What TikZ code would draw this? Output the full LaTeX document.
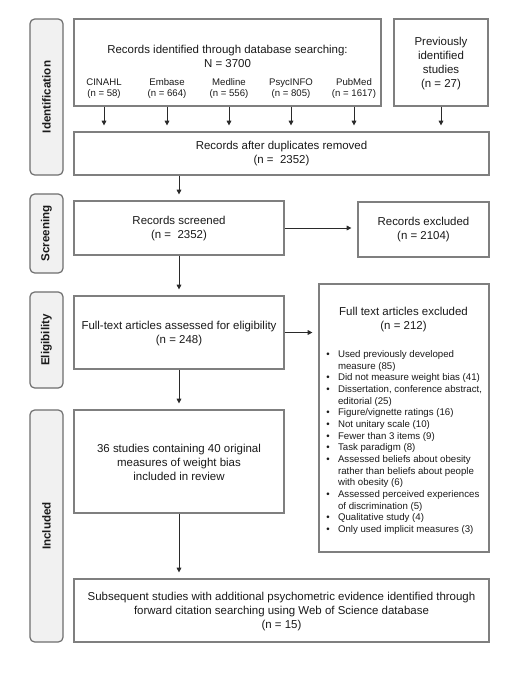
\documentclass[tikz,border=0pt]{standalone}
\usepackage{fontspec}
\setmainfont{Liberation Sans}
\usetikzlibrary{arrows.meta}
\definecolor{boxline}{HTML}{7F7F7F}
\definecolor{sideline}{HTML}{6E6E6E}
\definecolor{sidefill}{HTML}{F1F1F1}
\definecolor{arrowc}{HTML}{2A2A2A}
\definecolor{txtc}{HTML}{1A1A1A}
\begin{document}
\begin{tikzpicture}[x=0.75pt,y=-0.75pt,
  box/.style={draw=boxline, line width=0.9pt, inner sep=0pt},
  side/.style={draw=sideline, fill=sidefill, rounded corners=3.5pt, line width=0.9pt, inner sep=0pt, minimum width=24.75pt},
  sidelabel/.style={rotate=90, text=txtc, font=\bfseries\fontsize{8.7}{10}\selectfont, inner sep=0pt},
  txt/.style={align=center, text=txtc, font=\fontsize{8.6}{10.5}\selectfont, inner sep=0pt},
  small/.style={align=center, text=txtc, font=\fontsize{7.2}{8.7}\selectfont, inner sep=0pt},
  arr/.style={-{Triangle[length=3.5pt,width=3.5pt]}, line width=0.6pt, draw=arrowc, shorten >=4.5pt}]
\useasboundingbox (0,0) rectangle (520,693);
\fill[white] (0,0) rectangle (520,693);

% side boxes
\node[side, minimum height=117pt] (idside) at (46.5,97) {};
\node[sidelabel] at (idside.center) {Identification};
\node[side, minimum height=59.25pt] (scside) at (46.5,233.5) {};
\node[sidelabel] at (scside.center) {Screening};
\node[side, minimum height=72pt] (elside) at (46.5,340) {};
\node[sidelabel] at (elside.center) {Eligibility};
\node[side, minimum height=174pt] (inside) at (46.5,526) {};
\node[sidelabel] at (inside.center) {Included};

% identification
\node[box, minimum width=230.25pt, minimum height=65.25pt] (db) at (227.5,62.5) {};
\node[txt] (dbt) at (227.5,56) {Records identified through database searching:\\N = 3700};
\node[small] (c1) at (104,88.5) {CINAHL\\(n = 58)};
\node[small] (c2) at (167,88.5) {Embase\\(n = 664)};
\node[small] (c3) at (229,88.5) {Medline\\(n = 556)};
\node[small] (c4) at (291,88.5) {PsycINFO\\(n = 805)};
\node[small] (c5) at (354,88.5) {PubMed\\(n = 1617)};
\node[box, minimum width=70.5pt, minimum height=65.25pt] (prev) at (441,62.5) {};
\node[txt, font=\fontsize{8.6}{10.3}\selectfont] (prevt) at (441,63.5) {Previously\\identified\\studies\\(n = 27)};
\node[box, minimum width=311.25pt, minimum height=32.25pt] (dup) at (281.5,153.5) {};
\node[txt] (dupt) at (281.5,154) {Records after duplicates removed\\(n =\ \ 2352)};

% screening
\node[box, minimum width=157.5pt, minimum height=40.5pt] (scr) at (179,228) {};
\node[txt] (scrt) at (179,228.5) {Records screened\\(n =\ \ 2352)};
\node[box, minimum width=98.25pt, minimum height=41.25pt] (excl) at (423.5,229.5) {};
\node[txt] (exclt) at (423.5,229.5) {Records excluded\\(n = 2104)};

% eligibility
\node[box, minimum width=157.5pt, minimum height=54.75pt] (ft) at (179,332.5) {};
\node[txt] (ftt) at (179,334) {Full-text articles assessed for eligibility\\(n = 248)};
\node[box, minimum width=127.5pt, minimum height=201pt] (ftex) at (404,418) {};
\node[txt] (ftext) at (403.5,320) {Full text articles excluded\\(n = 212)};
\node[anchor=north west, align=left, text=txtc, font=\fontsize{7.25}{8.75}\selectfont, inner sep=0pt] (list) at (326,349) {%
\begin{tabular}{@{}l@{\hspace{6.3pt}}l@{}}
•& Used previously developed\\
 & measure (85)\\
•& Did not measure weight bias (41)\\
•& Dissertation, conference abstract,\\
 & editorial (25)\\
•& Figure/vignette ratings (16)\\
•& Not unitary scale (10)\\
•& Fewer than 3 items (9)\\
•& Task paradigm (8)\\
•& Assessed beliefs about obesity\\
 & rather than beliefs about people\\
 & with obesity (6)\\
•& Assessed perceived experiences\\
 & of discrimination (5)\\
•& Qualitative study (4)\\
•& Only used implicit measures (3)
\end{tabular}};

% included
\node[box, minimum width=157.5pt, minimum height=77.25pt] (inc) at (179,461.5) {};
\node[txt] (inct) at (179,462.5) {36 studies containing 40 original\\measures of weight bias\\included in review};
\node[box, minimum width=311.25pt, minimum height=47.25pt] (sub) at (281.5,610.5) {};
\node[txt] (subt) at (281.5,611.5) {Subsequent studies with additional psychometric evidence identified through\\forward citation searching using Web of Science database\\(n = 15)};

% arrows
\foreach \c in {c1,c2,c3,c4,c5}
  \draw[arr] (\c |- db.south) -- (\c |- dup.north);
\draw[arr] (prev.south) -- (prev.south |- dup.north);
\draw[arr] (scr.north |- dup.south) -- (scr.north);
\draw[arr] (scr.east) -- (excl.west |- scr.east);
\draw[arr] (scr.south) -- (ft.north);
\draw[arr] (ft.east) -- (ftex.west |- ft.east);
\draw[arr] (ft.south) -- (inc.north);
\draw[arr] (inc.south) -- (inc.south |- sub.north);
\end{tikzpicture}
\end{document}
